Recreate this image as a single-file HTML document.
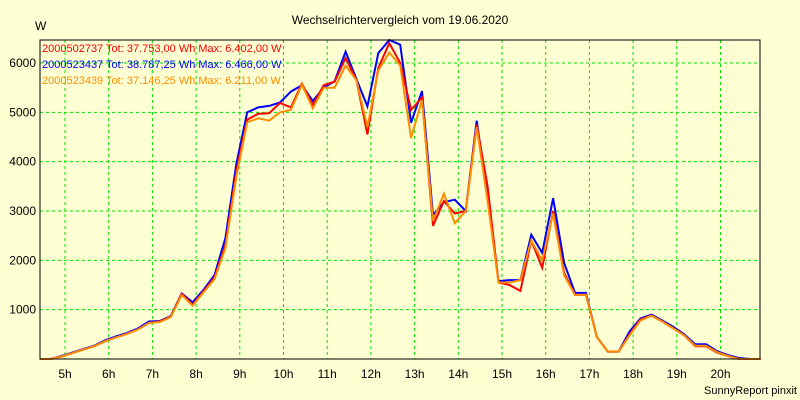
<!DOCTYPE html>
<html><head><meta charset="utf-8"><style>
html,body{margin:0;padding:0;background:#ffffd4;}
svg{display:block;font-family:"Liberation Sans",sans-serif;}
</style></head><body>
<svg id="chart" width="800" height="400">
<rect x="0" y="0" width="800" height="400" fill="#ffffd4"/>
<text x="400" y="24" font-size="12" text-anchor="middle">Wechselrichtervergleich vom 19.06.2020</text>
<text x="35" y="30" font-size="12">W</text>
<text x="797" y="394" font-size="11" text-anchor="end">SunnyReport pinxit</text>
<g id="grid"></g><g id="series"></g><g id="axes"></g>
<g font-size="11">
<text x="42" y="52" fill="#ff0000">2000502737 Tot: 37.753,00 Wh Max: 6.402,00 W</text>
<text x="42" y="68" fill="#0000ff">2000523437 Tot: 38.787,25 Wh Max: 6.466,00 W</text>
<text x="42" y="84" fill="#ff8c00">2000523439 Tot: 37.146,25 Wh Max: 6.211,00 W</text>
</g>
</svg>
<script>
const hourTicks = [5,6,7,8,9,10,11,12,13,14,15,16,17,18,19,20];
const valueTicks = [1000,2000,3000,4000,5000,6000];
const times = [4.5,4.75,5,5.25,5.5,5.75,6,6.25,6.5,6.75,7,7.25,7.5,7.75,8,8.25,8.5,8.75,9,9.25,9.5,9.75,10,10.25,10.5,10.75,11,11.25,11.5,11.75,12,12.25,12.5,12.75,13,13.25,13.5,13.75,14,14.25,14.5,14.75,15,15.25,15.5,15.75,16,16.25,16.5,16.75,17,17.25,17.5,17.75,18,18.25,18.5,18.75,19,19.25,19.5,19.75,20,20.25,20.5,20.75,21];
const blueValues = [0,0,60,130,200,270,380,460,530,620,760,770,870,1330,1150,1400,1700,2450,3950,5000,5100,5130,5200,5420,5550,5230,5500,5630,6230,5670,5120,6200,6466,6370,4790,5430,2920,3180,3230,3000,4830,3300,1580,1600,1600,2520,2150,3260,1950,1340,1340,450,150,150,560,820,900,780,650,500,300,300,160,80,20,0,0];
const redValues = [0,0,50,120,190,260,360,440,510,600,730,760,860,1320,1100,1370,1650,2300,3800,4850,4970,4980,5190,5100,5580,5150,5550,5620,6100,5650,4550,5900,6402,6000,5050,5300,2700,3200,2950,3000,4750,3500,1550,1500,1380,2400,1850,3000,1750,1300,1300,450,150,150,500,800,880,760,620,480,260,260,130,60,0,0,0];
const orangeValues = [0,0,50,120,190,260,360,440,510,600,730,750,850,1300,1080,1350,1620,2250,3700,4800,4880,4830,5000,5050,5560,5080,5500,5500,5950,5650,4700,5850,6211,5950,4480,5250,2800,3350,2750,3000,4700,3200,1550,1550,1600,2400,2000,2950,1700,1300,1300,450,150,150,480,780,880,760,620,480,270,270,140,60,0,0,0];

const L=40,R=760,T=40,B=359;
const shift=-0.08;
function xScale(h){return 65+(h-5)*43.7;}
function yScale(v){return B-v*(296/6000);}
const NS="http://www.w3.org/2000/svg";
const grid=document.getElementById('grid'),axes=document.getElementById('axes'),series=document.getElementById('series');
hourTicks.forEach(h=>{
  const x=xScale(h);
  const g=document.createElementNS(NS,'line');
  g.setAttribute('x1',x);g.setAttribute('x2',x);g.setAttribute('y1',T);g.setAttribute('y2',B);
  g.setAttribute('stroke','#00e000');g.setAttribute('stroke-dasharray','3,3');
  
  
  grid.appendChild(g);
  const t=document.createElementNS(NS,'text');
  t.setAttribute('x',x);t.setAttribute('y',378);t.setAttribute('font-size','12');t.setAttribute('text-anchor','middle');
  t.textContent=h+'h';
  
  
  axes.appendChild(t);
});
valueTicks.forEach(v=>{
  const y=yScale(v);
  const g=document.createElementNS(NS,'line');
  g.setAttribute('x1',L);g.setAttribute('x2',R);g.setAttribute('y1',y);g.setAttribute('y2',y);
  g.setAttribute('stroke','#00e000');g.setAttribute('stroke-dasharray','3,3');
  
  
  grid.appendChild(g);
  const t=document.createElementNS(NS,'text');
  t.setAttribute('x',36);t.setAttribute('y',y+4);t.setAttribute('font-size','12');t.setAttribute('text-anchor','end');
  t.textContent=v;
  
  
  axes.appendChild(t);
});
const frame=document.createElementNS(NS,'rect');
frame.setAttribute('x',L);frame.setAttribute('y',T);frame.setAttribute('width',R-L);frame.setAttribute('height',B-T);
frame.setAttribute('fill','none');frame.setAttribute('stroke','#000');


axes.appendChild(frame);
function drawLine(vals,color,name){
  const p=document.createElementNS(NS,'polyline');
  p.setAttribute('points',vals.map((v,i)=>xScale(times[i]+shift).toFixed(1)+','+yScale(v).toFixed(1)).join(' '));
  p.setAttribute('fill','none');p.setAttribute('stroke',color);p.setAttribute('stroke-width','2');
  
  
  series.appendChild(p);
}
drawLine(blueValues,'#0000ff','series-2000523437');
drawLine(redValues,'#ff0000','series-2000502737');
drawLine(orangeValues,'#ff8c00','series-2000523439');
</script>
</body></html>
